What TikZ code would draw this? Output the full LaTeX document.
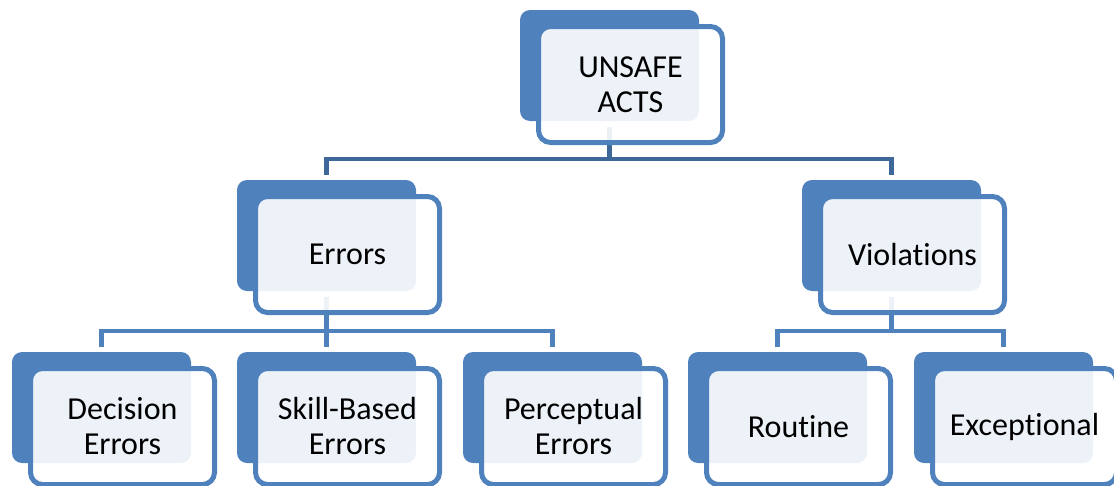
\documentclass[tikz,border=0pt]{standalone}
\usepackage{fontspec}
\setmainfont{Carlito}[Ligatures=NoCommon]
\usepackage{tikz}
\usetikzlibrary{calc}
\definecolor{boxblue}{HTML}{4F81BD}
\definecolor{linkblue}{HTML}{3D6899}
\tikzset{
  backbox/.style={fill=boxblue, rounded corners=10pt, minimum width=179pt, minimum height=111pt, inner sep=0pt},
  frontbox/.style={draw=boxblue, line width=5pt, fill=white, fill opacity=0.9, text opacity=1,
    rounded corners=12pt, minimum width=184pt, minimum height=116pt, inner sep=0pt,
    align=center, font=\fontsize{32}{35}\selectfont},
  linkline/.style={draw=boxblue, line width=4.5pt, shorten <=6pt, shorten >=5pt},
}

\begin{document}
\begin{tikzpicture}[x=1pt,y=-1pt]
\useasboundingbox (0,0) rectangle (1114,485);
% blue boxes at the back
\foreach \n/\x/\y in {unsafe/609.5/65.5, errors/326.5/235.5, violations/891.5/235.5,
    decision/101.5/407.5, skill/326.5/407.5, perceptual/552.5/407.5,
    routine/777.5/407.5, exceptional/1003.5/407.5}
  \node[backbox] (\n-back) at (\x,\y) {};
% tree lines
\foreach \c in {errors, violations}
  \draw[linkline, draw=linkblue] (unsafe-back.south) -- ++(0,38) -| (\c-back.north);
\foreach \c in {decision, skill, perceptual}
  \draw[linkline] (errors-back.south) -- ++(0,40) -| (\c-back.north);
\foreach \c in {routine, exceptional}
  \draw[linkline] (violations-back.south) -- ++(0,40) -| (\c-back.north);
% framed boxes in front, with the labels
\foreach \n/\t in {unsafe/{UNSAFE\\ACTS}, errors/Errors, violations/Violations,
    decision/{Decision\\Errors}, skill/{Skill-Based\\Errors}, perceptual/{Perceptual\\Errors},
    routine/Routine, exceptional/Exceptional}
  \node[frontbox] (\n) at ($(\n-back)+(21,19)$) {\t};
\end{tikzpicture}
\end{document}
